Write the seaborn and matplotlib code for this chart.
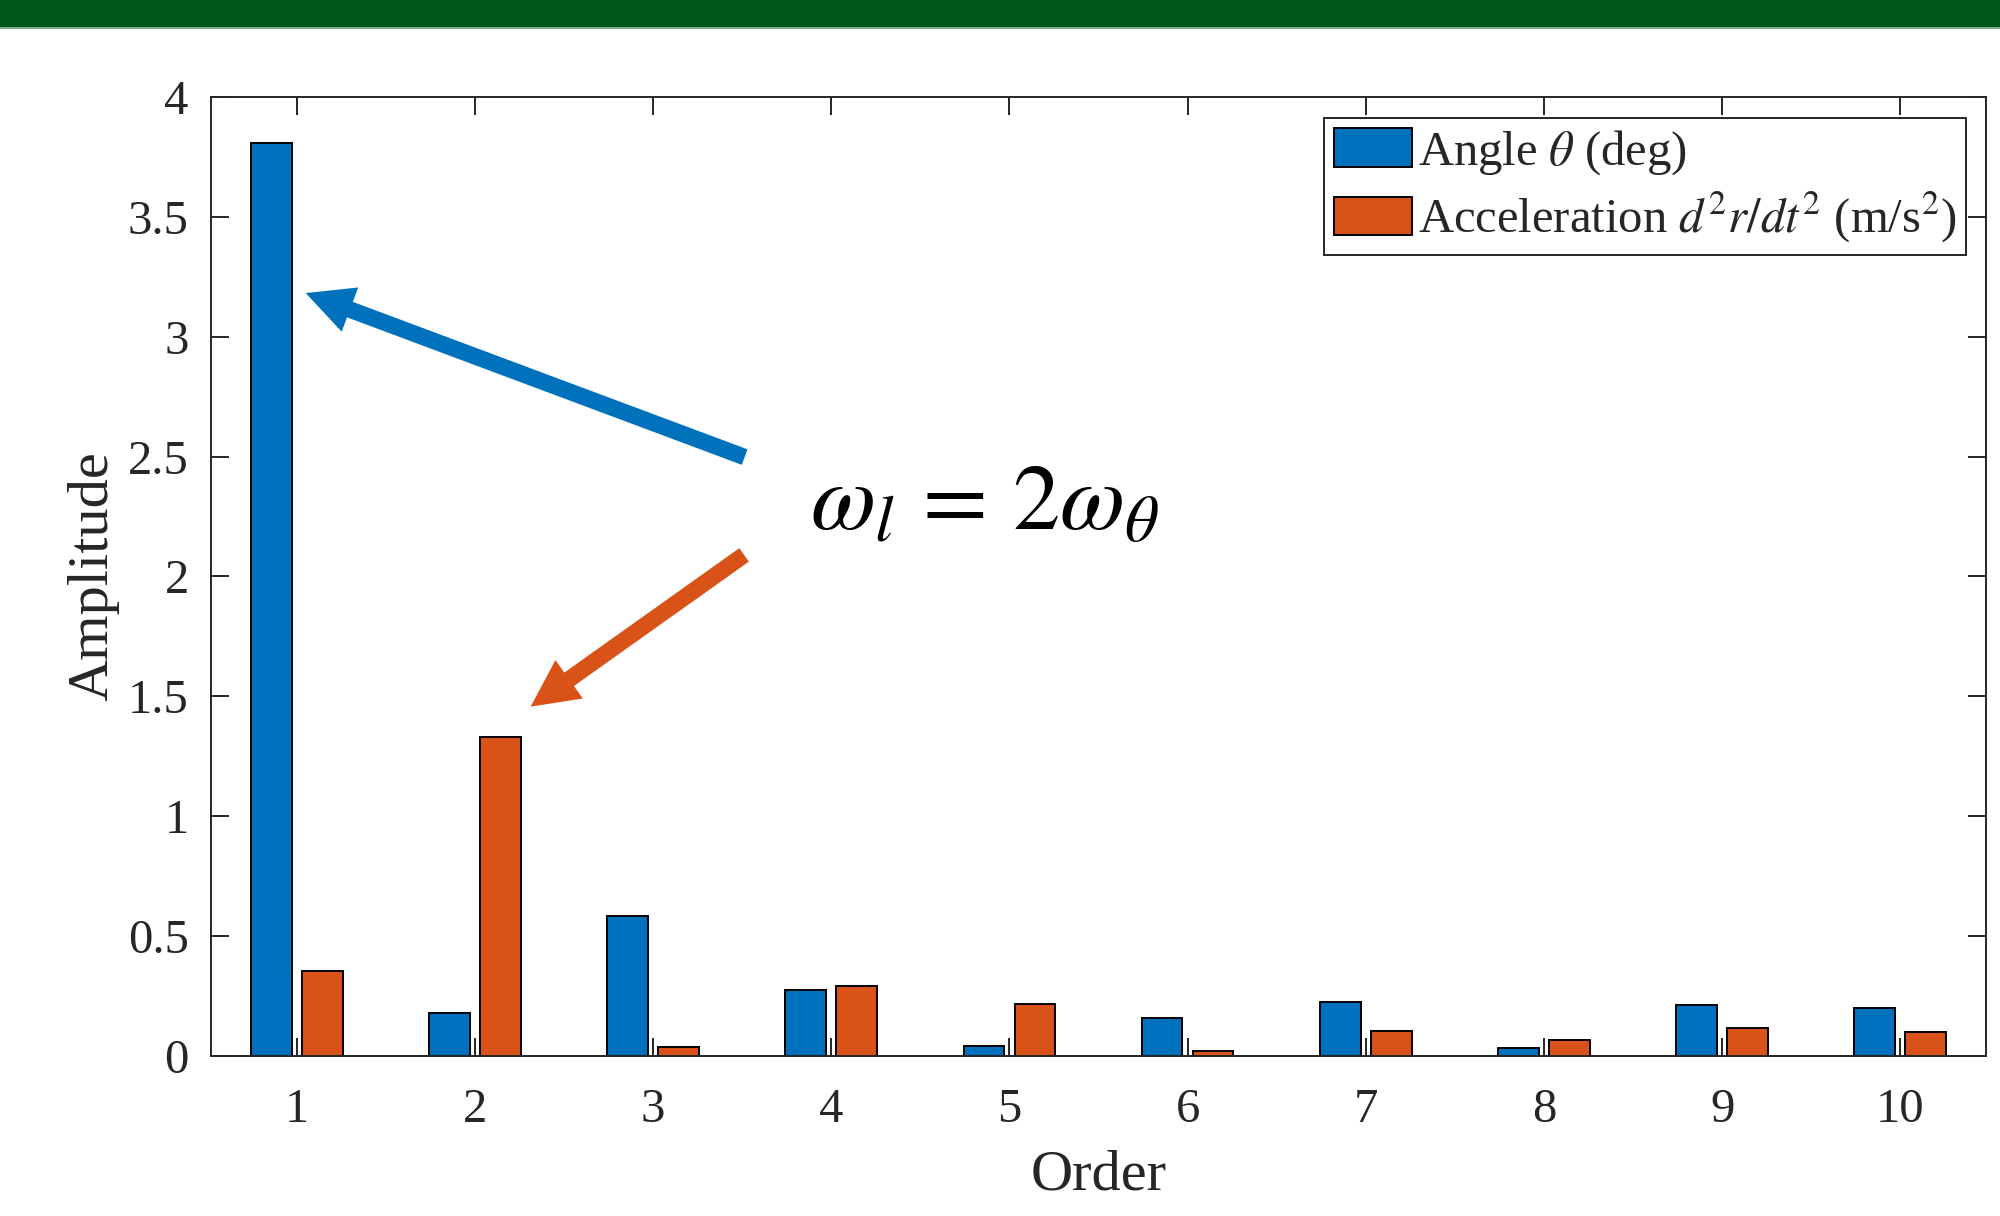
import matplotlib
matplotlib.use("Agg")
import matplotlib.pyplot as plt
from matplotlib.patches import Rectangle
from matplotlib.ticker import FuncFormatter
import seaborn as sns
import pandas as pd

# ---------------- data ----------------
orders = ["1", "2", "3", "4", "5", "6", "7", "8", "9", "10"]
angle_amp = [3.807, 0.181, 0.585, 0.277, 0.040, 0.158, 0.227, 0.035, 0.213, 0.201]
accel_amp = [0.356, 1.330, 0.036, 0.292, 0.217, 0.022, 0.103, 0.067, 0.118, 0.101]
series_labels = [r"Angle $\theta$ (deg)", r"Acceleration $d^2r/dt^2$ (m/s$^2$)"]
series_colors = ["#0072BD", "#D95319"]
y_ticks = [0, 0.5, 1, 1.5, 2, 2.5, 3, 3.5, 4]
annotation_text = r"$\omega_l\,=\,2\omega_\theta$"

df = pd.DataFrame({
    "Order": orders * 2,
    "Amplitude": angle_amp + accel_amp,
    "Series": [series_labels[0]] * len(orders) + [series_labels[1]] * len(orders),
})

# ---------------- style ----------------
sns.set_theme(style="white")
plt.rcParams["font.family"] = ["Liberation Serif", "DejaVu Serif"]
plt.rcParams["mathtext.fontset"] = "stix"
plt.rcParams["axes.edgecolor"] = "#262626"

fig = plt.figure(figsize=(10, 6.08), dpi=200)
fig.patch.set_facecolor("white")

# green banner at top
fig.patches.append(Rectangle((0, 1 - 27.5 / 1216), 1, 27.5 / 1216, transform=fig.transFigure,
                             facecolor="#00591C", edgecolor="none", zorder=0))
fig.patches.append(Rectangle((0, 1 - 28.8 / 1216), 1, 1.3 / 1216, transform=fig.transFigure,
                             facecolor="#7FAE8F", edgecolor="none", zorder=0))

ax = fig.add_axes([0.1055, 0.13158, 0.8875, 0.7887])

sns.barplot(data=df, x="Order", y="Amplitude", hue="Series", order=orders,
            hue_order=series_labels, palette=series_colors, width=0.572, gap=0.2,
            edgecolor="black", linewidth=0.7, errorbar=None, saturation=1, ax=ax)

ax.set_xlim(-0.481, len(orders) - 1 + 0.481)
ax.set_ylim(0, 4)
ax.set_yticks(y_ticks)
ax.yaxis.set_major_formatter(FuncFormatter(lambda v, p: f"{v:g}"))

for s in ax.spines.values():
    s.set_visible(True)
    s.set_linewidth(0.7)
    s.set_color("#262626")

ax.tick_params(axis="both", which="major", direction="in", length=6.4, width=0.7,
               color="#262626", labelcolor="#262626", labelsize=17.5,
               top=True, right=True, bottom=True, left=True)
ax.tick_params(axis="x", pad=11.5)
ax.tick_params(axis="y", pad=8)

ax.set_xlabel("Order", fontsize=21, color="#262626")
ax.set_ylabel("Amplitude", fontsize=21, color="#262626")
ax.xaxis.set_label_coords(0.5, -0.098)
ax.yaxis.set_label_coords(-0.0515, 0.5)

# legend
handles, labels = ax.get_legend_handles_labels()
leg = ax.legend(handles, labels, loc="upper right", bbox_to_anchor=(0.9887, 0.978),
                borderaxespad=0, fontsize=17.5, frameon=True, fancybox=False,
                framealpha=1, edgecolor="#262626", handlelength=1.6, handleheight=0.85,
                handletextpad=0.12, borderpad=0.2, labelspacing=0.28)
leg.get_frame().set_linewidth(0.7)

# annotation arrows and text
ax.annotate("", xy=(0.0505, 3.182), xytext=(2.514, 2.498),
            arrowprops=dict(arrowstyle="simple,head_length=1.0,head_width=1.0,tail_width=0.35",
                            mutation_scale=17, color=series_colors[0], shrinkA=0, shrinkB=0, lw=0))
ax.annotate("", xy=(1.313, 1.457), xytext=(2.511, 2.090),
            arrowprops=dict(arrowstyle="simple,head_length=1.0,head_width=1.0,tail_width=0.35",
                            mutation_scale=17, color=series_colors[1], shrinkA=0, shrinkB=0, lw=0))
ax.text(2.88, 2.197, annotation_text, fontsize=34, ha="left", va="baseline", color="black")

fig.savefig("out.png", dpi=200, facecolor="white")
